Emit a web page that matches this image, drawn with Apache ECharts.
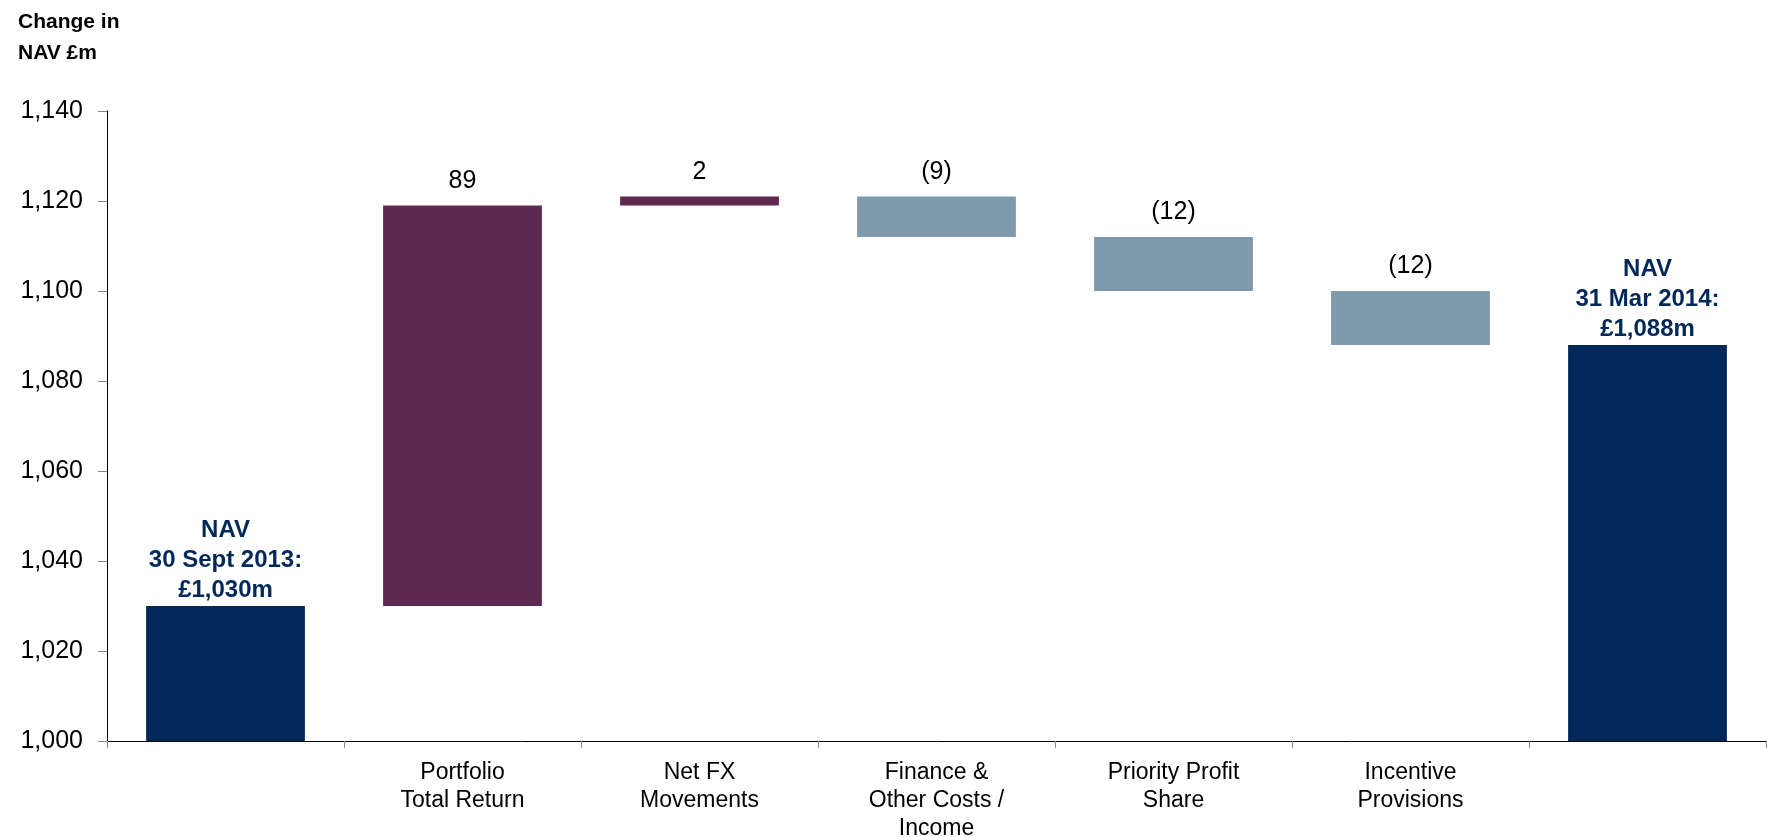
<!DOCTYPE html>
<html>
<head>
<meta charset="utf-8">
<title>Change in NAV</title>
<script src="https://cdn.jsdelivr.net/npm/echarts@6/dist/echarts.min.js"></script>
<style>
  html, body { margin: 0; padding: 0; background: #ffffff; }
  #chart { width: 1767px; height: 837px; }
</style>
</head>
<body>
<div id="chart"></div>
<script>
// NAV bridge, £m
const categories = ['', 'Portfolio\nTotal Return', 'Net FX\nMovements', 'Finance &\nOther Costs /\nIncome', 'Priority Profit\nShare', 'Incentive\nProvisions', ''];
const openingNav = 1030;
const closingNav = 1088;
const changes = [89, 2, -9, -12, -12];
const changeLabels = ['89', '2', '(9)', '(12)', '(12)'];
const totalLabels = ['NAV\n30 Sept 2013:\n£1,030m', 'NAV\n31 Mar 2014:\n£1,088m'];
const yMin = 1000, yMax = 1140, yStep = 20;

const NAVY = '#012859';
const PLUM = '#5E2950';
const SLATE = '#7E9AAC';

// Build the stacked waterfall: an invisible base plus the visible piece
const base = ['-'];
const rises = ['-'];
const falls = ['-'];
let running = openingNav;
changes.forEach(c => {
  const next = running + c;
  base.push(Math.min(running, next));
  rises.push(c > 0 ? c : '-');
  falls.push(c < 0 ? -c : '-');
  running = next;
});
base.push('-'); rises.push('-'); falls.push('-');
const totals = [openingNav, '-', '-', '-', '-', '-', closingNav];

const labelFont = 'Arial, "Liberation Sans", Helvetica, sans-serif';

const changeLabel = {
  show: true,
  position: 'top',
  distance: 12,
  color: '#000',
  fontFamily: labelFont,
  fontSize: 25,
  formatter: p => changeLabels[p.dataIndex - 1]
};

const chart = echarts.init(document.getElementById('chart'), null, { renderer: 'canvas' });
chart.setOption({
  animation: false,
  backgroundColor: '#ffffff',
  graphic: [{
    type: 'text',
    left: 18,
    top: 7,
    style: {
      text: 'Change in\nNAV £m',
      fontFamily: labelFont,
      fontWeight: 'bold',
      fontSize: 21,
      lineHeight: 31,
      fill: '#000'
    }
  }],
  grid: { left: 107, right: 1, top: 111, bottom: 96, containLabel: false, outerBoundsMode: 'none' },
  xAxis: {
    type: 'category',
    data: categories,
    axisLine: { lineStyle: { color: '#000', width: 1 } },
    axisTick: { show: true, length: 7, lineStyle: { color: '#888' } },
    axisLabel: {
      interval: 0,
      margin: 18,
      color: '#000',
      fontFamily: labelFont,
      fontSize: 23,
      lineHeight: 28
    }
  },
  yAxis: {
    type: 'value',
    min: yMin,
    max: yMax,
    interval: yStep,
    splitLine: { show: false },
    axisLine: { show: true, lineStyle: { color: '#000', width: 1 } },
    axisTick: { show: true, length: 9, lineStyle: { color: '#888' } },
    axisLabel: {
      margin: 24,
      color: '#000',
      fontFamily: labelFont,
      fontSize: 25,
      formatter: v => v.toLocaleString('en-GB')
    }
  },
  series: [
    {
      type: 'bar', stack: 'wf', barWidth: '67%', silent: true,
      itemStyle: { color: 'transparent' },
      data: base
    },
    {
      type: 'bar', stack: 'wf', barWidth: '67%',
      itemStyle: { color: NAVY },
      label: {
        show: true,
        position: 'top',
        distance: 1,
        color: NAVY,
        fontFamily: labelFont,
        fontWeight: 'bold',
        fontSize: 24,
        lineHeight: 30,
        align: 'center',
        formatter: p => p.dataIndex === 0 ? totalLabels[0] : totalLabels[1]
      },
      data: totals
    },
    {
      type: 'bar', stack: 'wf', barWidth: '67%',
      itemStyle: { color: PLUM },
      label: changeLabel,
      data: rises
    },
    {
      type: 'bar', stack: 'wf', barWidth: '67%',
      itemStyle: { color: SLATE },
      label: changeLabel,
      data: falls
    }
  ]
});
</script>
</body>
</html>
